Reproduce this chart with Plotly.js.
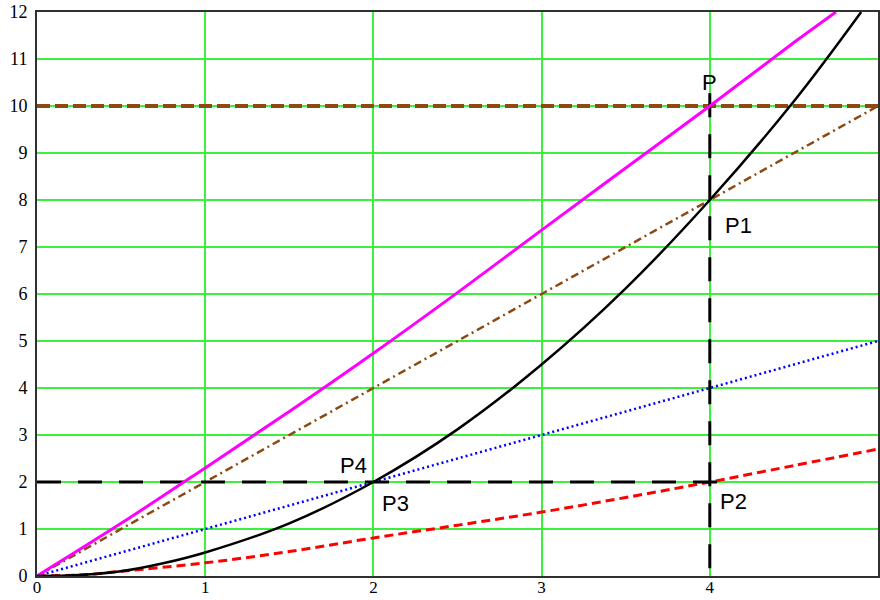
<!DOCTYPE html>
<html>
<head>
<meta charset="utf-8">
<script src="https://cdn.plot.ly/plotly-3.0.1.min.js"></script>
<style>
  html, body { margin: 0; padding: 0; background: #ffffff; }
  #plot { width: 880px; height: 600px; }
</style>
</head>
<body>
<div id="plot"></div>
<script>
// Magenta curve through P
const magentaX = [0, 0.5, 1, 1.5, 2, 2.5, 3, 3.5, 4, 4.5, 4.75];
const magentaY = [0, 1.12, 2.3, 3.5, 4.74, 6.03, 7.36, 8.68, 10, 11.35, 12];

// Black curve through P3 and P1
const blackX = [0, 0.25, 0.5, 0.75, 1, 1.5, 2, 2.5, 3, 3.5, 4, 4.5, 4.9];
const blackY = [0, 0.02, 0.1, 0.27, 0.5, 1.12, 2, 3.12, 4.5, 6.12, 8, 10.1, 12];

// Red dashed curve through P2
const redX = [0, 0.3, 0.5, 1, 1.5, 2, 2.5, 3, 3.5, 4, 4.5, 5];
const redY = [0, 0.03, 0.1, 0.28, 0.52, 0.81, 1.08, 1.36, 1.67, 2, 2.35, 2.7];

// Straight lines
const blueX = [0, 5];
const blueY = [0, 5];
const brownX = [0, 5];
const brownY = [0, 10];
const levelTopX = [0, 5];
const levelTopY = [10, 10];
const levelLowX = [0, 4.1];
const levelLowY = [2, 2];
const verticalX = [4, 4];
const verticalY = [10.27, 0];

// Point labels
const labelText = ['P', 'P1', 'P2', 'P3', 'P4'];
const labelX = [4.0, 4.17, 4.14, 2.13, 1.88];
const labelY = [10.5, 7.45, 1.58, 1.55, 2.36];

const xTicks = [0, 1, 2, 3, 4, 5];
const yTicks = [0, 1, 2, 3, 4, 5, 6, 7, 8, 9, 10, 11, 12];

const brown = '#8c4a12';

const traces = [
  { x: levelTopX, y: levelTopY, mode: 'lines',
    line: { color: brown, width: 4, dash: '13px,5px' } },
  { x: brownX, y: brownY, mode: 'lines',
    line: { color: brown, width: 2.5, dash: '8px,4px,2px,4px' } },
  { x: blueX, y: blueY, mode: 'lines',
    line: { color: '#0000ff', width: 2.5, dash: '2px,3px' } },
  { x: redX, y: redY, mode: 'lines',
    line: { color: '#ff0000', width: 3, dash: '9px,5px', shape: 'spline' } },
  { x: levelLowX, y: levelLowY, mode: 'lines',
    line: { color: '#000000', width: 3, dash: '24px,17px' } },
  { x: verticalX, y: verticalY, mode: 'lines',
    line: { color: '#000000', width: 3, dash: '24px,17px' } },
  { x: magentaX, y: magentaY, mode: 'lines',
    line: { color: '#ff00ff', width: 3, shape: 'spline' } },
  { x: blackX, y: blackY, mode: 'lines',
    line: { color: '#000000', width: 2.5, shape: 'spline' } }
];

const annotations = labelText.map((t, i) => ({
  x: labelX[i], y: labelY[i], xref: 'x', yref: 'y',
  text: t, showarrow: false, xanchor: 'center', yanchor: 'middle',
  font: { family: 'Liberation Sans, Arial, sans-serif', size: 22, color: '#000000' }
}));

const tickFont = { family: '"Liberation Serif", "Times New Roman", serif', size: 18, color: '#000000' };

const axisCommon = {
  showgrid: true,
  gridcolor: '#3ef03e',
  gridwidth: 2,
  zeroline: false,
  showline: true,
  mirror: true,
  linecolor: '#303030',
  linewidth: 2,
  tickfont: tickFont,
  fixedrange: true
};

const layout = {
  width: 880,
  height: 600,
  margin: { l: 37, r: 2, t: 12, b: 24 },
  paper_bgcolor: '#ffffff',
  plot_bgcolor: '#ffffff',
  showlegend: false,
  xaxis: Object.assign({}, axisCommon, {
    range: [0, 5], tickvals: xTicks, ticktext: xTicks.map(String),
    ticks: '', ticklabelstandoff: -5,
    tickfont: Object.assign({}, tickFont, { size: 17 })
  }),
  yaxis: Object.assign({}, axisCommon, {
    range: [0, 12], tickvals: yTicks, ticktext: yTicks.map(String),
    ticks: 'outside', ticklen: 4, tickcolor: 'rgba(0,0,0,0)'
  }),
  annotations: annotations
};

Plotly.newPlot('plot', traces, layout, { staticPlot: true, displayModeBar: false });
</script>
</body>
</html>
